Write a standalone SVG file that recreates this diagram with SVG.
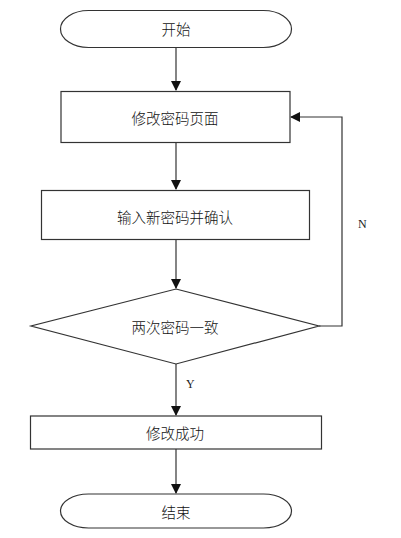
<svg xmlns="http://www.w3.org/2000/svg" width="401" height="538" viewBox="0 0 401 538">
<style>
.s{fill:#fff;stroke:#333;stroke-width:1.2}
.t{font-family:"Noto Sans CJK SC","Liberation Sans",sans-serif;font-size:14.5px;font-weight:300;fill:#111;text-anchor:middle;dominant-baseline:central}
.l{font-family:"Liberation Serif",serif;font-size:12px;fill:#222}
.c{fill:none;stroke:#333;stroke-width:1.2}
</style>
<defs>
<marker id="a" markerWidth="10" markerHeight="10" refX="9" refY="5" orient="auto" markerUnits="userSpaceOnUse">
<path d="M0,0 L10,5 L0,10 z" fill="#111"/>
</marker>
</defs>
<rect width="401" height="538" fill="#fff"/>
<g id="connectors">
<line class="c" x1="176" y1="47" x2="176" y2="90" marker-end="url(#a)"/>
<line class="c" x1="176" y1="142" x2="176" y2="189" marker-end="url(#a)"/>
<line class="c" x1="176" y1="239" x2="176" y2="288" marker-end="url(#a)"/>
<polyline class="c" points="319,326 342,326 342,117 291,117" marker-end="url(#a)"/>
<line class="c" x1="176" y1="364" x2="176" y2="415" marker-end="url(#a)"/>
<line class="c" x1="176" y1="449" x2="176" y2="493" marker-end="url(#a)"/>
<text class="l" x="358" y="228">N</text>
<text class="l" x="186" y="388">Y</text>
</g>
<g id="start">
<rect class="s" x="60.5" y="10.5" width="231" height="37" rx="28" ry="18.5"/>
<text class="t" x="176" y="28">开始</text>
</g>
<g id="page">
<rect class="s" x="61" y="91.5" width="229" height="51"/>
<text class="t" x="175" y="117">修改密码页面</text>
</g>
<g id="input">
<rect class="s" x="41.5" y="190.5" width="268" height="49"/>
<text class="t" x="175" y="216">输入新密码并确认</text>
</g>
<g id="check">
<polygon class="s" points="176,289 319,326 176,364 31,326"/>
<text class="t" x="175" y="326">两次密码一致</text>
</g>
<g id="success">
<rect class="s" x="30.5" y="416" width="291" height="33"/>
<text class="t" x="175" y="432">修改成功</text>
</g>
<g id="end">
<rect class="s" x="60.5" y="494" width="231" height="34" rx="28" ry="17"/>
<text class="t" x="176" y="511">结束</text>
</g>
</svg>
